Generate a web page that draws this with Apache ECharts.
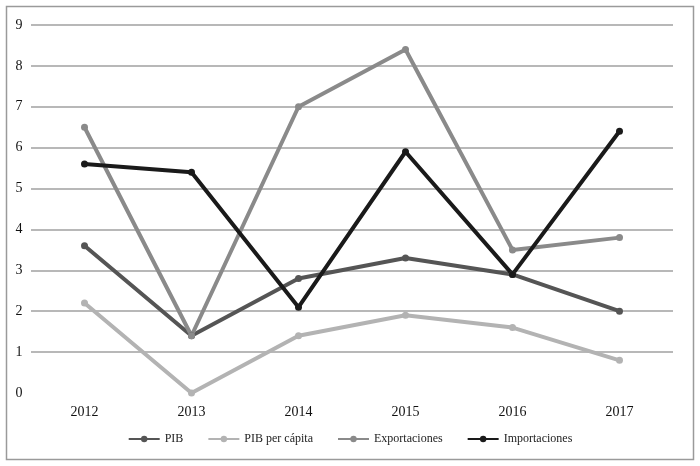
<!DOCTYPE html>
<html><head><meta charset="utf-8">
<script src="https://cdn.jsdelivr.net/npm/echarts@6/dist/echarts.min.js"></script>
<style>html,body{margin:0;padding:0;background:#fff}#c{width:700px;height:466px}</style>
</head><body><div id="c"></div>
<script>
const years = ['2012','2013','2014','2015','2016','2017'];
const pib = [3.6, 1.4, 2.8, 3.3, 2.9, 2.0];
const pibPerCapita = [2.2, 0.0, 1.4, 1.9, 1.6, 0.8];
const exportaciones = [6.5, 1.4, 7.0, 8.4, 3.5, 3.8];
const importaciones = [5.6, 5.4, 2.1, 5.9, 2.9, 6.4];
const seriesNames = ['PIB', 'PIB per cápita', 'Exportaciones', 'Importaciones'];
const seriesData = [pib, pibPerCapita, exportaciones, importaciones];
const colors = ['#555555', '#b3b3b3', '#8a8a8a', '#1a1a1a'];
const font = '"Liberation Serif", "DejaVu Serif", serif';

const chart = echarts.init(document.getElementById('c'), null, {renderer: 'canvas'});
chart.setOption({
  animation: false,
  textStyle: {fontFamily: font},
  graphic: [{
    type: 'rect', shape: {x: 6.5, y: 6.5, width: 687, height: 453},
    style: {fill: 'none', stroke: '#9a9a9a', lineWidth: 1.5}, silent: true
  }],
  grid: {left: 31, right: 27, top: 25, bottom: 73, containLabel: false},
  legend: {
    bottom: 16, left: 'center', itemGap: 24, itemWidth: 31, itemHeight: 8,
    textStyle: {fontFamily: font, fontSize: 12, color: '#222'},
    data: seriesNames
  },
  xAxis: {
    type: 'category', data: years, boundaryGap: true,
    axisLine: {show: false}, axisTick: {show: false},
    axisLabel: {fontFamily: font, fontSize: 14, color: '#111', margin: 12}
  },
  yAxis: {
    type: 'value', min: 0, max: 9, interval: 1,
    axisLine: {show: false}, axisTick: {show: false},
    axisLabel: {fontFamily: font, fontSize: 14, color: '#111', margin: 12, align: 'center'},
    splitLine: {lineStyle: {color: '#a0a0a0', width: 1.5},
      showMinLine: false}
  },
  series: seriesNames.map((n, i) => ({
    name: n, type: 'line', data: seriesData[i],
    color: colors[i],
    lineStyle: {color: colors[i], width: 4},
    itemStyle: {color: colors[i]},
    symbol: 'circle', symbolSize: 7, showSymbol: true
  }))
});
</script></body></html>
